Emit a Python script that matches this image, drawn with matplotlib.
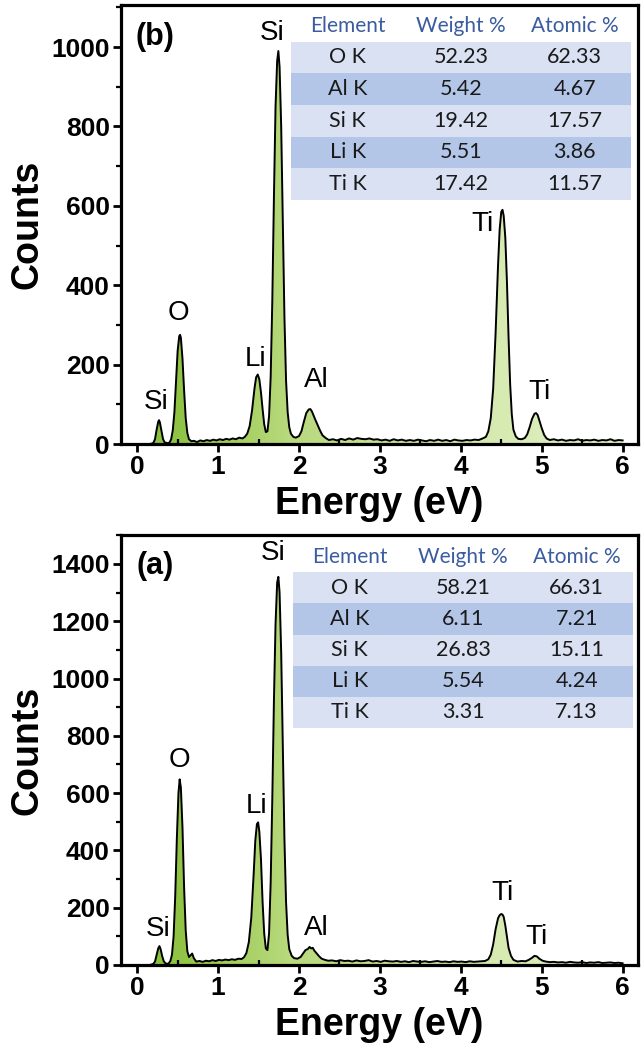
import matplotlib
matplotlib.use("Agg")
import matplotlib.pyplot as plt
import numpy as np
from matplotlib.colors import LinearSegmentedColormap
from matplotlib.patches import PathPatch
from matplotlib.ticker import MultipleLocator

# ---- data ----
energy_b = [0.15, 0.18, 0.20, 0.22, 0.24, 0.26, 0.27, 0.28, 0.30, 0.32, 0.34, 0.36, 0.38, 0.40,
            0.42, 0.44, 0.46, 0.48, 0.50, 0.52, 0.53, 0.54, 0.56, 0.58, 0.60, 0.62, 0.64, 0.67,
            0.70, 0.74, 0.78, 0.82, 0.86, 0.90, 0.94, 0.98, 1.02, 1.06, 1.10, 1.14, 1.18, 1.22,
            1.26, 1.30, 1.33, 1.36, 1.39, 1.42, 1.45, 1.47, 1.49, 1.51, 1.53, 1.55, 1.57, 1.59,
            1.61, 1.63, 1.65, 1.67, 1.69, 1.71, 1.73, 1.745, 1.76, 1.78, 1.80, 1.82, 1.84, 1.86,
            1.88, 1.90, 1.93, 1.96, 2.00, 2.03, 2.06, 2.09, 2.12, 2.14, 2.16, 2.18, 2.20, 2.23,
            2.26, 2.29, 2.33, 2.37, 2.42, 2.47, 2.52, 2.57, 2.62, 2.67, 2.72, 2.77, 2.82, 2.87,
            2.92, 2.97, 3.02, 3.07, 3.12, 3.17, 3.22, 3.27, 3.32, 3.37, 3.42, 3.47, 3.52, 3.57,
            3.62, 3.67, 3.72, 3.77, 3.82, 3.87, 3.92, 3.97, 4.02, 4.07, 4.12, 4.17, 4.22, 4.27,
            4.31, 4.34, 4.37, 4.40, 4.43, 4.46, 4.48, 4.50, 4.515, 4.53, 4.55, 4.57, 4.59, 4.61,
            4.63, 4.65, 4.68, 4.71, 4.75, 4.79, 4.82, 4.85, 4.88, 4.91, 4.93, 4.95, 4.97, 5.00,
            5.03, 5.06, 5.10, 5.15, 5.20, 5.25, 5.30, 5.35, 5.40, 5.45, 5.50, 5.55, 5.60, 5.65,
            5.70, 5.75, 5.80, 5.85, 5.90, 5.95, 6.00]
counts_b = [0, 1, 3, 12, 36, 56, 60, 55, 33, 12, 4, 3, 2, 4,
            12, 35, 80, 155, 235, 272, 275, 268, 215, 135, 65, 28, 12, 7,
            8, 5, 9, 7, 10, 8, 11, 9, 12, 10, 13, 11, 14, 12,
            16, 14, 18, 26, 45, 85, 140, 168, 175, 163, 130, 88, 50, 30,
            32, 70, 170, 360, 620, 850, 965, 990, 950, 800, 560, 320, 160, 80,
            42, 26, 18, 16, 20, 32, 56, 78, 87, 88, 82, 72, 62, 48,
            34, 22, 15, 10, 12, 9, 13, 10, 14, 11, 15, 13, 12, 14,
            11, 12, 9, 11, 8, 12, 9, 11, 8, 10, 8, 11, 9, 7,
            10, 8, 11, 8, 10, 7, 11, 9, 8, 10, 9, 11, 10, 14,
            18, 32, 65, 140, 280, 450, 540, 585, 590, 575, 520, 410, 270, 150,
            75, 36, 19, 13, 12, 15, 24, 42, 63, 76, 78, 73, 60, 40,
            23, 14, 10, 12, 9, 11, 8, 10, 9, 12, 8, 10, 9, 11,
            8, 10, 9, 12, 8, 10, 9]

energy_a = [0.15, 0.18, 0.20, 0.22, 0.24, 0.26, 0.275, 0.29, 0.31, 0.33, 0.35, 0.37, 0.39, 0.41,
            0.43, 0.45, 0.47, 0.49, 0.51, 0.525, 0.54, 0.56, 0.58, 0.60, 0.62, 0.64, 0.66, 0.68,
            0.70, 0.73, 0.77, 0.81, 0.85, 0.89, 0.93, 0.97, 1.01, 1.05, 1.09, 1.13, 1.17, 1.21,
            1.25, 1.29, 1.32, 1.35, 1.38, 1.41, 1.44, 1.46, 1.48, 1.495, 1.51, 1.53, 1.55, 1.57,
            1.59, 1.61, 1.63, 1.65, 1.67, 1.69, 1.71, 1.73, 1.745, 1.76, 1.78, 1.80, 1.82, 1.84,
            1.86, 1.88, 1.91, 1.94, 1.98, 2.02, 2.05, 2.08, 2.11, 2.13, 2.15, 2.17, 2.19, 2.22,
            2.25, 2.28, 2.32, 2.36, 2.41, 2.46, 2.51, 2.56, 2.61, 2.66, 2.71, 2.76, 2.81, 2.86,
            2.91, 2.96, 3.01, 3.06, 3.11, 3.16, 3.21, 3.26, 3.31, 3.36, 3.41, 3.46, 3.51, 3.56,
            3.61, 3.66, 3.71, 3.76, 3.81, 3.86, 3.91, 3.96, 4.01, 4.06, 4.11, 4.16, 4.21, 4.26,
            4.30, 4.34, 4.37, 4.40, 4.43, 4.46, 4.48, 4.50, 4.515, 4.53, 4.55, 4.57, 4.59, 4.62,
            4.65, 4.70, 4.75, 4.80, 4.84, 4.88, 4.91, 4.94, 4.97, 5.01, 5.05, 5.10, 5.15, 5.20,
            5.25, 5.30, 5.35, 5.40, 5.45, 5.50, 5.55, 5.60, 5.65, 5.70, 5.75, 5.80, 5.85, 5.90,
            5.95, 6.00]
counts_a = [0, 2, 4, 12, 35, 58, 66, 55, 30, 12, 6, 4, 6, 14,
            36, 100, 240, 440, 600, 648, 620, 480, 270, 120, 48, 28, 34, 40,
            24, 12, 14, 11, 15, 13, 17, 14, 18, 16, 19, 17, 20, 18,
            22, 21, 27, 42, 80, 165, 320, 435, 492, 498, 465, 370, 220, 110,
            58, 52, 110, 290, 580, 920, 1190, 1335, 1355, 1300, 1090, 760, 440, 220,
            105, 55, 32, 24, 22, 28, 40, 52, 56, 63, 58, 60, 50, 40,
            30, 22, 18, 15, 16, 13, 17, 14, 15, 12, 16, 13, 14, 17,
            12, 14, 11, 15, 13, 12, 14, 11, 13, 10, 14, 12, 11, 13,
            10, 12, 14, 11, 12, 10, 13, 11, 12, 10, 13, 11, 12, 13,
            14, 20, 36, 72, 125, 163, 174, 178, 176, 168, 138, 98, 60, 32,
            18, 12, 14, 13, 18, 25, 32, 30, 22, 15, 12, 10, 11, 9,
            10, 8, 11, 9, 8, 10, 7, 9, 8, 10, 7, 8, 9, 7,
            8, 6]

peak_names = ["Si", "O", "Li", "Si", "Al", "Ti", "Ti"]
label_pos_b = [(0.24, 106), (0.51, 330), (1.46, 214), (1.67, 1035), (2.21, 160), (4.27, 555), (4.97, 130)]
label_pos_a = [(0.26, 124), (0.52, 715), (1.48, 556), (1.68, 1438), (2.22, 128), (4.52, 252), (4.94, 96)]

table_cols = ["Element", "Weight %", "Atomic %"]
elements = ["O K", "Al K", "Si K", "Li K", "Ti K"]
weight_b = ["52.23", "5.42", "19.42", "5.51", "17.42"]
atomic_b = ["62.33", "4.67", "17.57", "3.86", "11.57"]
weight_a = ["58.21", "6.11", "26.83", "5.54", "3.31"]
atomic_a = ["66.31", "7.21", "15.11", "4.24", "7.13"]

# ---- style ----
BOLD = "Liberation Sans"
green = LinearSegmentedColormap.from_list(
    "eds", [(0.0, "#86bd3a"), (0.12, "#96c74b"), (0.3, "#b8d97c"),
            (0.7, "#d6eab0"), (1.0, "#e3f1c9")])
row_light, row_dark = "#d9e1f2", "#b4c6e7"
head_blue = "#3b5ca0"


def draw_panel(ax, energy, counts, ymax, major, labels, tag, weight, atomic, tbox):
    energy = np.asarray(energy)
    counts = np.asarray(counts)

    # gradient fill under the spectrum
    poly = ax.fill_between(energy, counts, 0, color="none", lw=0)
    clip = PathPatch(poly.get_paths()[0], transform=ax.transData, fc="none", ec="none")
    ax.add_patch(clip)
    grad = np.linspace(0, 1, 256).reshape(1, -1)
    im = ax.imshow(grad, extent=[0, 6.2, 0, ymax], aspect="auto", cmap=green,
                   origin="lower", zorder=1)
    im.set_clip_path(clip)
    ax.plot(energy, counts, color="black", lw=1.4, zorder=3)

    ax.set_xlim(-0.2, 6.19)
    ax.set_ylim(0, ymax)
    ax.set_xticks(range(7))
    ax.xaxis.set_minor_locator(MultipleLocator(0.5))
    ax.yaxis.set_major_locator(MultipleLocator(major))
    ax.yaxis.set_minor_locator(MultipleLocator(major / 2))

    for sp in ax.spines.values():
        sp.set_linewidth(2.3)
    ax.tick_params(which="major", direction="out", length=6, width=2, pad=2,
                   labelsize=19)
    ax.tick_params(axis="y", which="minor", direction="out", length=3.5, width=1.6)
    ax.tick_params(axis="x", which="minor", direction="in", length=3.5, width=1.6)
    for lab in ax.get_xticklabels() + ax.get_yticklabels():
        lab.set_fontfamily(BOLD)
        lab.set_fontweight("bold")

    ax.set_xlabel("Energy (eV)", fontsize=27, fontweight="bold", family=BOLD, labelpad=5)
    ax.set_ylabel("Counts", fontsize=27, fontweight="bold", family=BOLD, labelpad=4)

    for name, (xe, yc) in zip(peak_names, labels):
        ax.text(xe, yc, name, fontsize=20, family=BOLD, ha="center", va="center", zorder=4)
    ax.text(0.066, 0.928, tag, transform=ax.transAxes, fontsize=22, fontweight="bold",
            family=BOLD, ha="center", va="center", zorder=4)

    rows = [[e, w, a] for e, w, a in zip(elements, weight, atomic)]
    tab = ax.table(cellText=rows, colLabels=table_cols, cellLoc="center", bbox=tbox, zorder=5)
    tab.auto_set_font_size(False)
    for (r, c), cell in tab.get_celld().items():
        cell.set_linewidth(0)
        txt = cell.get_text()
        txt.set_fontfamily("Lato")
        if r == 0:
            cell.set_facecolor("none")
            txt.set_color(head_blue)
            txt.set_fontsize(15)
        else:
            cell.set_facecolor(row_light if r % 2 == 1 else row_dark)
            txt.set_color("#1a1a1a")
            txt.set_fontsize(15.5)


fig = plt.figure(figsize=(6.44, 10.57), dpi=100)
ax_b = fig.add_axes([121 / 644, 1 - 444 / 1057, 517 / 644, 439 / 1057])
ax_a = fig.add_axes([121 / 644, 1 - 965 / 1057, 517 / 644, 430 / 1057])

draw_panel(ax_b, energy_b, counts_b, 1106, 200, label_pos_b, "(b)", weight_b, atomic_b,
           [0.329, 0.556, 0.658, 0.433])
draw_panel(ax_a, energy_a, counts_a, 1501, 200, label_pos_a, "(a)", weight_a, atomic_a,
           [0.333, 0.551, 0.658, 0.435])

fig.savefig("out.png", dpi=100)
